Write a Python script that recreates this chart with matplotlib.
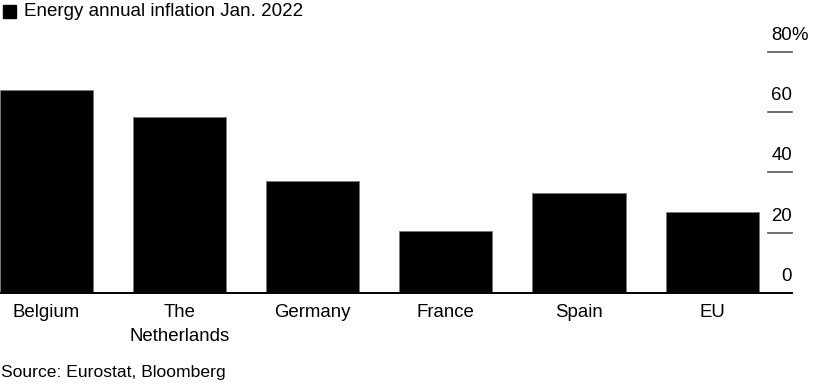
import matplotlib.pyplot as plt
import matplotlib.patches as mpatches

plt.rcParams['font.family'] = ['Liberation Sans', 'DejaVu Sans']

countries = ['Belgium', 'The\nNetherlands', 'Germany', 'France', 'Spain', 'EU']
inflation = [67.4, 58.4, 37.0, 20.5, 33.0, 26.9]
yticks = [0, 20, 40, 60, 80]
yticklabels = ['0', '20', '40', '60', '80']

fig = plt.figure(figsize=(8.14, 3.88), dpi=100)
ax = fig.add_axes([0, 1 - 293 / 388, 792 / 814, (293 - 51.7) / 388])

x = list(range(len(countries)))
ax.bar(x, inflation, width=0.70, color='black', edgecolor='#777777', linewidth=0.6)
ax.set_xlim(-0.349, 5.60)
ax.set_ylim(0, 80)

for s in ['top', 'right', 'left']:
    ax.spines[s].set_visible(False)
ax.spines['bottom'].set_color('black')
ax.spines['bottom'].set_linewidth(1.4)
ax.set_yticks([])
ax.set_xticks(x)
ax.set_xticklabels(countries, fontsize=13.4, linespacing=1.5, va='top')
ax.tick_params(axis='x', length=0, pad=8)

# right-hand value scale, labels sitting above short tick lines
ytrans = ax.get_yaxis_transform()
for val, lab in zip(yticks, yticklabels):
    if val > 0:
        ax.plot([0.9697, 1.0], [val, val], color='#555555', lw=1.2,
                transform=ytrans, clip_on=False)
    ax.annotate(lab, xy=(1.0, val), xycoords=ytrans, xytext=(0, 8),
                textcoords='offset pixels', ha='right', va='bottom', fontsize=13.4)
    if val == 80:
        ax.annotate('%', xy=(1.0, val), xycoords=ytrans, xytext=(-1, 8),
                    textcoords='offset pixels', ha='left', va='bottom', fontsize=13.4)

# legend-style title
fig.patches.append(mpatches.Rectangle((3 / 814, 1 - 18 / 388), 13 / 814, 13 / 388,
                                      transform=fig.transFigure, color='black'))
fig.text(24 / 814, 1 - 11.5 / 388, 'Energy annual inflation Jan. 2022',
         fontsize=13.5, va='center', ha='left')
fig.text(1 / 814, 1 - 373 / 388, 'Source: Eurostat, Bloomberg',
         fontsize=12.6, va='center', ha='left')

fig.savefig('out.png', dpi=100, facecolor='white')
